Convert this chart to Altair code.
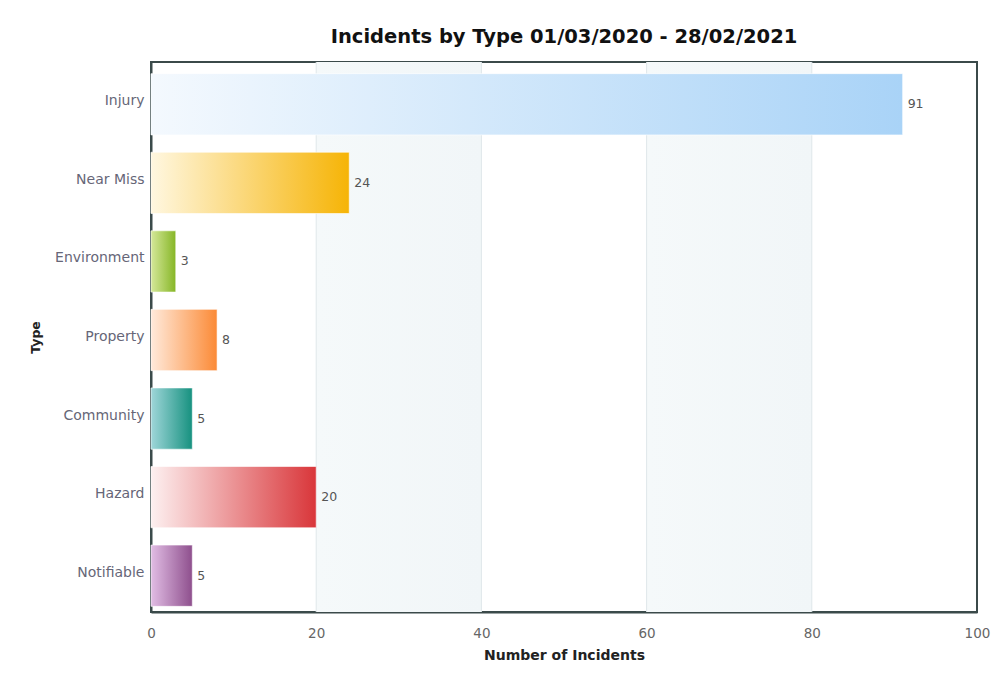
import altair as alt
import pandas as pd

# Incident counts per type
types = ["Injury", "Near Miss", "Environment", "Property", "Community", "Hazard", "Notifiable"]
counts = [91, 24, 3, 8, 5, 20, 5]

# Alternating shaded columns and grid positions on the count axis
band_start = [20, 60]
band_end = [40, 80]
grid_at = [20, 40, 60, 80]

# Left-to-right gradient stops for each bar type
palette = {
    "Injury": ("#f4f9fe", "#a9d3f7"),
    "Near Miss": ("#fff7e0", "#f6b406"),
    "Environment": ("#d5e89a", "#86b626"),
    "Property": ("#ffeadb", "#fb8a36"),
    "Community": ("#9fd6d9", "#16917f"),
    "Hazard": ("#fdf0f0", "#d9363a"),
    "Notifiable": ("#e1bde4", "#8e4f8d"),
}

df = pd.DataFrame({"Type": types, "Count": counts})
bands = pd.DataFrame({"start": band_start, "end": band_end})
grid = pd.DataFrame({"v": grid_at})

x_scale = alt.Scale(domain=[0, 100], nice=False)
y_scale = alt.Scale(domain=types, paddingInner=0.22, paddingOuter=0.11)

x_axis = alt.Axis(
    values=[0, 20, 40, 60, 80, 100], grid=False, ticks=False,
    labelPadding=14, labelFlush=False, labelFontSize=13.5, labelColor="#666",
    title="Number of Incidents", titleFontSize=14, titleFontWeight="bold",
    titleColor="#222", titlePadding=9,
    domainColor="#3b4a4a", domainWidth=2,
)
y_axis = alt.Axis(
    grid=False, ticks=False, labelPadding=7, labelFontSize=14,
    labelColor="#667", title="Type", titleFontSize=12.5,
    titleFontWeight="bold", titleColor="#222", titlePadding=12,
    domainColor="#3b4a4a", domainWidth=2,
)

band_layer = alt.Chart(bands).mark_rect(
    fill=alt.Gradient(
        gradient="linear", x1=0, x2=1, y1=0, y2=0,
        stops=[alt.GradientStop(offset=0, color="#f5f9fa"),
               alt.GradientStop(offset=1, color="#f1f6f8")],
    )
).encode(
    x=alt.X("start:Q", scale=x_scale, axis=x_axis),
    x2="end:Q",
)

grid_layer = alt.Chart(grid).mark_rule(color="#dfe7ea", strokeWidth=1).encode(
    x=alt.X("v:Q", scale=x_scale)
)

bar_layers = []
for t in types:
    c0, c1 = palette[t]
    bar_layers.append(
        alt.Chart(df).transform_filter(alt.datum.Type == t).mark_bar(
            fill=alt.Gradient(
                gradient="linear", x1=0, x2=1, y1=0, y2=0,
                stops=[alt.GradientStop(offset=0, color=c0),
                       alt.GradientStop(offset=1, color=c1)],
            ),
            stroke="#ffffff", strokeOpacity=0.6, strokeWidth=1,
            yOffset=3,
        ).encode(
            x=alt.X("Count:Q", scale=x_scale),
            y=alt.Y("Type:N", scale=y_scale, axis=y_axis, sort=types),
        )
    )

labels = alt.Chart(df).mark_text(
    align="left", baseline="middle", dx=5, dy=3, fontSize=12.5, color="#555"
).encode(
    x=alt.X("Count:Q", scale=x_scale),
    y=alt.Y("Type:N", scale=y_scale, sort=types),
    text="Count:Q",
)

chart = alt.layer(band_layer, grid_layer, *bar_layers, labels).properties(
    width=826,
    height=550,
    title="Incidents by Type 01/03/2020 - 28/02/2021",
    autosize=alt.AutoSizeParams(type="none"),
    padding={"left": 151, "top": 62, "right": 17, "bottom": 71},
).configure(
    font="DejaVu Sans",
    background="#ffffff",
).configure_view(
    stroke="#3b4a4a", strokeWidth=2,
).configure_title(
    fontSize=19.5, fontWeight="bold", color="#111", anchor="middle", offset=14,
)

chart.save("out.html", embed_options={"renderer": "svg", "actions": False})
